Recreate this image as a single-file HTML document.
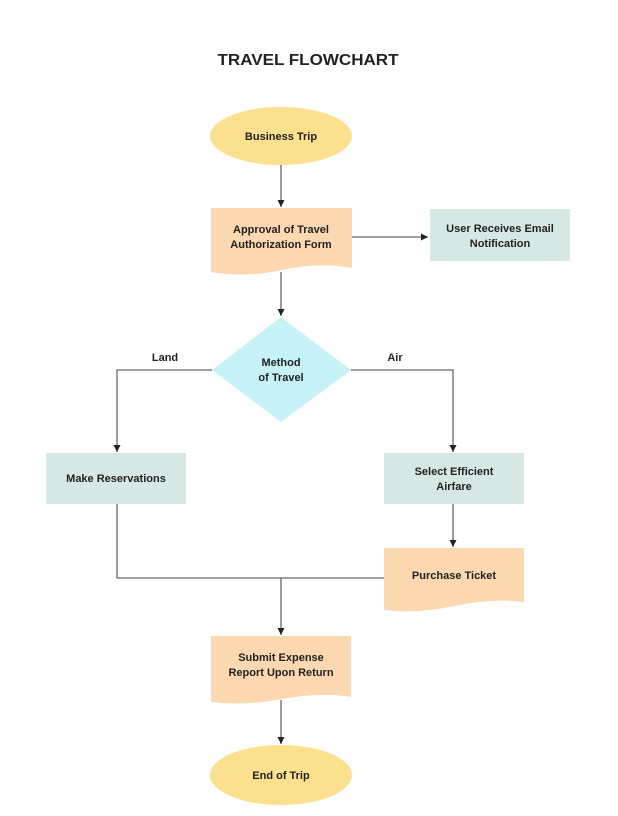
<!DOCTYPE html>
<html><head><meta charset="utf-8"><style>
html,body{margin:0;padding:0;background:#fff;}
svg{display:block;}
text{font-family:"Liberation Sans",sans-serif;font-weight:bold;fill:#222;}
</style></head><body>
<svg width="618" height="816" viewBox="0 0 618 816" xmlns="http://www.w3.org/2000/svg">
<defs><marker id="a" markerWidth="8" markerHeight="8" refX="7" refY="4" orient="auto" markerUnits="userSpaceOnUse"><path d="M0,0.5 L7,4 L0,7.5 z" fill="#222"/></marker></defs>
<text x="308" y="65" text-anchor="middle" font-size="16" textLength="181" lengthAdjust="spacingAndGlyphs">TRAVEL FLOWCHART</text>
<g stroke="#666" stroke-width="1.3" fill="none">
<line x1="281" y1="164" x2="281" y2="207" marker-end="url(#a)"/>
<line x1="352" y1="237" x2="428" y2="237" marker-end="url(#a)"/>
<line x1="281" y1="272" x2="281" y2="316" marker-end="url(#a)"/>
<polyline points="212,370 117,370 117,452" marker-end="url(#a)"/>
<polyline points="351,370 453,370 453,452" marker-end="url(#a)"/>
<line x1="453" y1="503" x2="453" y2="547" marker-end="url(#a)"/>
<polyline points="117,503 117,578 384,578"/>
<line x1="281" y1="578" x2="281" y2="635" marker-end="url(#a)"/>
<line x1="281" y1="700" x2="281" y2="744" marker-end="url(#a)"/>
</g>
<ellipse cx="281" cy="136" rx="71" ry="29" fill="#fbe08d"/>
<text x="281" y="140" text-anchor="middle" font-size="11">Business Trip</text>
<path d="M211,208 H352 V268 Q320,262 282,270 Q245,278 211,272 Z" fill="#fcd8b0"/>
<text x="281" y="233" text-anchor="middle" font-size="11">Approval of Travel</text>
<text x="281" y="248" text-anchor="middle" font-size="11">Authorization Form</text>
<rect x="430" y="209" width="140" height="52" fill="#d5e8e4"/>
<text x="500" y="232" text-anchor="middle" font-size="11">User Receives Email</text>
<text x="500" y="247" text-anchor="middle" font-size="11">Notification</text>
<polygon points="281,317 351,370 281,422 212,370" fill="#c5f1f7"/>
<text x="281" y="366" text-anchor="middle" font-size="11">Method</text>
<text x="281" y="381" text-anchor="middle" font-size="11">of Travel</text>
<text x="165" y="361" text-anchor="middle" font-size="11">Land</text>
<text x="395" y="361" text-anchor="middle" font-size="11">Air</text>
<rect x="46" y="453" width="140" height="51" fill="#d5e8e4"/>
<text x="116" y="482" text-anchor="middle" font-size="11">Make Reservations</text>
<rect x="384" y="453" width="140" height="51" fill="#d5e8e4"/>
<text x="454" y="475" text-anchor="middle" font-size="11">Select Efficient</text>
<text x="454" y="490" text-anchor="middle" font-size="11">Airfare</text>
<path d="M384,548 H524 V602 Q492,598 454,606 Q418,614 384,610 Z" fill="#fcd8b0"/>
<text x="454" y="579" text-anchor="middle" font-size="11">Purchase Ticket</text>
<path d="M211,636 H351 V697 Q320,692 282,699 Q245,706 211,702 Z" fill="#fcd8b0"/>
<text x="281" y="661" text-anchor="middle" font-size="11">Submit Expense</text>
<text x="281" y="676" text-anchor="middle" font-size="11">Report Upon Return</text>
<ellipse cx="281" cy="775" rx="71" ry="30" fill="#fbe08d"/>
<text x="281" y="779" text-anchor="middle" font-size="11">End of Trip</text>
</svg>
</body></html>
